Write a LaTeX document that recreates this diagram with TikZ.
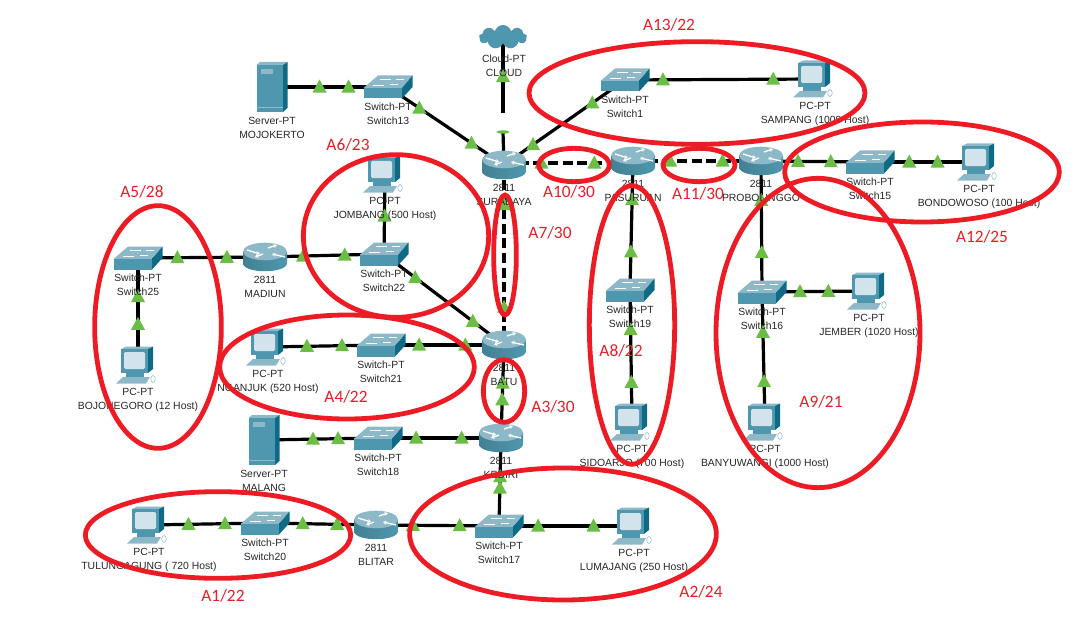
\documentclass[tikz,border=0pt]{standalone}
\usepackage{fontspec}
\setmainfont{Liberation Sans}
\newfontfamily\zonefont{Carlito}
\usetikzlibrary{arrows.meta,shapes.geometric,shapes.symbols,backgrounds}
\definecolor{ciscoface}{HTML}{4F97AE}
\definecolor{ciscotop}{HTML}{8DB8C7}
\definecolor{ciscodark}{HTML}{0F6A85}
\definecolor{screenblue}{HTML}{D3E3EB}
\definecolor{lnkgreen}{HTML}{6ABD45}
\definecolor{zonered}{HTML}{ED1C24}

\newcommand{\drawrouter}{%
	\begin{scope}[shift={(path picture bounding box.center)}]
		\shade[left color=ciscoface!85!black,middle color=white,right color=ciscoface] (-22,-5) -- (-22,6) .. controls (-22,17) and (22,17) .. (22,6) -- (22,-5) -- cycle;
		\fill[ciscotop] (0,-5.5) ellipse [x radius=16.5pt,y radius=6.6pt];
		\draw[white,line width=1pt,-{Stealth[length=2.5pt,width=3pt]}] (-18,-7) -- (-5,-3);
		\draw[white,line width=1pt,-{Stealth[length=2.5pt,width=3pt]}] (3,-9) -- (12,-12);
		\draw[white,line width=1pt,-{Stealth[length=2.5pt,width=3pt]}] (-2,-3) -- (-10,0);
		\draw[white,line width=1pt,-{Stealth[length=2.5pt,width=3pt]}] (20,0) -- (7,-3);
	\end{scope}}
\newcommand{\drawswitch}{%
	\begin{scope}[shift={(path picture bounding box.center)}]
		\fill[ciscotop] (-24.5,1) -- (-10,-11.5) -- (24.5,-11.5) -- (14,1) -- cycle;
		\fill[ciscoface] (-24.5,1) rectangle (14,11.5);
		\fill[ciscodark] (14,1) -- (24.5,-11.5) -- (24.5,0) -- (14,11.5) -- cycle;
		\draw[white,line width=.5pt] (-8,-8) -- (3,-8) (8,-8) -- (16,-8) (-15,-2) -- (-4,-2) (2,-3) -- (10,-3);
	\end{scope}}
\newcommand{\drawpc}{%
	\begin{scope}[shift={(path picture bounding box.center)}]
		\fill[ciscotop] (-17,-16) -- (-12,-18.5) -- (15,-18.5) -- (10,-16) -- cycle;
		\fill[ciscodark] (10,-16) -- (15,-18.5) -- (15,4) -- (10,8) -- cycle;
		\fill[ciscoface] (-17,-16) rectangle (10,8);
		\fill[screenblue,rounded corners=1pt] (-14,-13) rectangle (7,4);
		\fill[ciscoface] (-12,8) rectangle (6,12);
		\fill[ciscotop] (-22,18.5) -- (8,18.5) -- (12,12) -- (-15,12) -- cycle;
		\draw[ciscotop,fill=white,line width=.4pt] (15,14) ellipse [x radius=1.7pt,y radius=2.6pt];
	\end{scope}}
\newcommand{\drawserver}{%
	\begin{scope}[shift={(path picture bounding box.center)}]
		\fill[ciscotop] (-15.5,-22) -- (-12,-25) -- (15.5,-25) -- (11,-22) -- cycle;
		\fill[ciscodark] (11,-22) -- (15.5,-25) -- (15.5,21) -- (11,25) -- cycle;
		\fill[ciscoface] (-15.5,-22) rectangle (11,25);
		\fill[ciscotop] (-11,-18) rectangle (1,-13);
		\draw[ciscotop,line width=.4pt] (-15.5,20) -- (11,20);
	\end{scope}}

\begin{document}
\begin{tikzpicture}[x=.75pt,y=-.75pt,
	lbl/.style={font=\fontsize{7.8pt}{10.5pt}\selectfont,align=center,inner sep=0pt,label distance=3.4pt,text=black!85},
	rtr/.style={inner sep=0pt,outer sep=0pt,minimum width=33pt,minimum height=22pt,path picture={\drawrouter}},
	swt/.style={inner sep=0pt,outer sep=0pt,minimum width=37pt,minimum height=17.25pt,path picture={\drawswitch}},
	pcbox/.style={inner sep=0pt,outer sep=0pt,minimum width=33pt,minimum height=27.75pt,path picture={\drawpc}},
	srv/.style={inner sep=0pt,outer sep=0pt,minimum width=23.25pt,minimum height=37.5pt,path picture={\drawserver}},
	cld/.style={cloud,cloud puffs=9,aspect=2.2,inner sep=0pt,minimum width=36pt,minimum height=18pt,left color=ciscoface,middle color=ciscotop,right color=ciscoface},
	lnk/.style={draw=black,line width=2.4pt},
	lnkd/.style={lnk,dash pattern=on 7.5pt off 3.5pt},
	tri/.style={isosceles triangle,shape border rotate=90,isosceles triangle stretches,fill=lnkgreen,inner sep=0pt,minimum width=10.5pt,minimum height=9.75pt,yshift=-1pt},
	zone/.style={ellipse,draw=zonered,line width=3.6pt,inner sep=0pt},
	zonetxt/.style={font=\zonefont\fontsize{13pt}{15pt}\selectfont,text=zonered,inner sep=0pt}
	]
	\useasboundingbox (0,0) rectangle (1084,624);
	\node[cld] (cloudpt) at (503,37) {};
	\node[lbl] (cloudlbl) at (504,66) {Cloud-PT\\CLOUD};
	\node[srv,label={[lbl]below:Server-PT\\MOJOKERTO}] (mojo) at (272,87) {};
	\node[swt,label={[lbl]below:Switch-PT\\Switch13}] (sw13) at (388,87) {};
	\node[swt,label={[lbl]below:Switch-PT\\Switch1}] (sw1) at (625,80) {};
	\node[pcbox,label={[lbl]below:PC-PT\\SAMPANG (1000 Host)}] (sampang) at (815,79) {};
	\node[rtr,label={[lbl]below:2811\\SURABAYA}] (sby) at (504,165) {};
	\node[rtr,label={[lbl]below:2811\\PASURUAN}] (pas) at (633,161) {};
	\node[rtr,label={[lbl]below:2811\\PROBOLINGGO}] (pro) at (761,161) {};
	\node[swt,label={[lbl]below:Switch-PT\\Switch15}] (sw15) at (870,162) {};
	\node[pcbox,label={[lbl]below:PC-PT\\BONDOWOSO (100 Host)}] (bond) at (979,162) {};
	\node[pcbox,label={[lbl]below:PC-PT\\JOMBANG (500 Host)}] (jombang) at (385,174) {};
	\node[swt,label={[lbl]below:Switch-PT\\Switch22}] (sw22) at (384,254) {};
	\node[rtr,label={[lbl]below:2811\\MADIUN}] (madiun) at (265,257) {};
	\node[swt,label={[lbl]below:Switch-PT\\Switch25}] (sw25) at (138,258) {};
	\node[pcbox,label={[lbl]below:PC-PT\\BOJONEGORO (12 Host)}] (bojo) at (138,365) {};
	\node[pcbox,label={[lbl]below:PC-PT\\NGANJUK (520 Host)}] (nganjuk) at (268,347) {};
	\node[swt,label={[lbl]below:Switch-PT\\Switch21}] (sw21) at (381,345) {};
	\node[rtr,label={[lbl]below:2811\\BATU}] (batu) at (504,345) {};
	\node[srv,label={[lbl]below:Server-PT\\MALANG}] (malang) at (264,440) {};
	\node[swt,label={[lbl]below:Switch-PT\\Switch18}] (sw18) at (378,438) {};
	\node[rtr,label={[lbl]below:2811\\KEDIRI}] (kediri) at (501,438) {};
	\node[pcbox,label={[lbl]below:PC-PT\\TULUNGAGUNG ( 720 Host)}] (tulung) at (149,525) {};
	\node[swt,label={[lbl]below:Switch-PT\\Switch20}] (sw20) at (265,523) {};
	\node[rtr,label={[lbl]below:2811\\BLITAR}] (blitar) at (376,525) {};
	\node[swt,label={[lbl]below:Switch-PT\\Switch17}] (sw17) at (499,526) {};
	\node[pcbox,label={[lbl]below:PC-PT\\LUMAJANG (250 Host)}] (lumajang) at (634,526) {};
	\node[swt,label={[lbl]below:Switch-PT\\Switch19}] (sw19) at (630,290) {};
	\node[pcbox,label={[lbl]below:PC-PT\\SIDOARJO (700 Host)}] (sidoarjo) at (632,422) {};
	\node[swt,label={[lbl]below:Switch-PT\\Switch16}] (sw16) at (762,292) {};
	\node[pcbox,label={[lbl]below:PC-PT\\JEMBER (1020 Host)}] (jember) at (869,291) {};
	\node[pcbox,label={[lbl]below:PC-PT\\BANYUWANGI (1000 Host)}] (banyu) at (765,422) {};
	\coordinate (gapa) at (503,113);
	\coordinate (gapb) at (503,132);
	\begin{scope}[on background layer]
		\foreach \a/\b/\p/\q in {sw13/sby/.27/.72,sw1/sby/.27/.76,mojo/sw13/.41/.66,pro/sw15/.34/.64,sw15/bond/.36/.62,
			sw1/sampang/.2/.78,pas/sw19/.3/.705,sw19/sidoarjo/.3/.7,pro/sw16/.3/.7,sw16/banyu/.31/.69,sw16/jember/.355/.62,
			sw22/batu/.26/.74,madiun/sw22/.32/.67,sw25/madiun/.31/.7,bojo/sw25/.38/.64,nganjuk/sw21/.345/.655,sw21/batu/.31/.685,
			batu/kediri/.41/.59,malang/sw18/.43/.65,sw18/kediri/.31/.68,kediri/sw17/.44/.57,blitar/sw17/.3/.68,sw17/lumajang/.29/.7,
			tulung/sw20/.34/.655,sw20/blitar/.34/.65}
			\draw[lnk] (\a.center) -- node[tri,pos=\p]{} node[tri,pos=\q]{} (\b.center);
		\foreach \a/\b/\p/\q in {pas/pro/.29/.7,sby/batu/.22/.79}
			\draw[lnkd] (\a.center) -- node[tri,pos=\p]{} node[tri,pos=\q]{} (\b.center);
		\draw[lnkd] ([yshift=1.5pt]sby.center) -- node[tri,pos=.29]{} node[tri,pos=.7]{} ([yshift=-1.5pt]pas.center);
		\draw[lnk] (jombang.center) -- node[tri,pos=.525]{} (sw22.center);
		\draw[lnk] (cloudpt.center) -- node[tri,pos=.52]{} (gapa);
		\draw[lnk] (gapb) -- node[pos=0,ellipse,fill=lnkgreen,inner sep=0pt,minimum width=10pt,minimum height=2.5pt]{} (sby.center);
	\end{scope}
	% zones
	\node[zone,minimum width=252pt,minimum height=77pt] (z13) at (697,93) {};
	\node[zone,minimum width=53pt,minimum height=25pt] (z10) at (574,165) {};
	\node[zone,minimum width=54pt,minimum height=25pt] (z11) at (699,165) {};
	\node[zone,minimum width=206pt,minimum height=75pt] (z12) at (922,172) {};
	\node[zone,minimum width=153pt,minimum height=232pt] (z9) at (818,333) {};
	\node[zone,minimum width=64pt,minimum height=209pt] (z8) at (632,325) {};
	\node[zone,minimum width=17pt,minimum height=90pt] (z7) at (505,255) {};
	\node[zone,minimum width=139pt,minimum height=122pt] (z6) at (396,236) {};
	\node[zone,minimum width=95pt,minimum height=182pt] (z5) at (158,327) {};
	\node[zone,minimum width=191pt,minimum height=78pt] (z4) at (347,367) {};
	\node[zone,minimum width=31pt,minimum height=47pt] (z3) at (504,391) {};
	\node[zone,minimum width=230pt,minimum height=99pt] (z2) at (563,534) {};
	\node[zone,minimum width=199pt,minimum height=65pt] (z1) at (218,535) {};
	\node[zonetxt] (t13) at (669,25) {A13/22};
	\node[zonetxt] (t6) at (348,145) {A6/23};
	\node[zonetxt] (t5) at (142,192) {A5/28};
	\node[zonetxt] (t10) at (569,192) {A10/30};
	\node[zonetxt] (t11) at (698,194) {A11/30};
	\node[zonetxt] (t7) at (550,233) {A7/30};
	\node[zonetxt] (t12) at (982,237) {A12/25};
	\node[zonetxt] (t8) at (621,351) {A8/22};
	\node[zonetxt] (t9) at (821,402) {A9/21};
	\node[zonetxt] (t4) at (346,397) {A4/22};
	\node[zonetxt] (t3) at (553,407) {A3/30};
	\node[zonetxt] (t1) at (223,596) {A1/22};
	\node[zonetxt] (t2) at (701,592) {A2/24};
\end{tikzpicture}
\end{document}
